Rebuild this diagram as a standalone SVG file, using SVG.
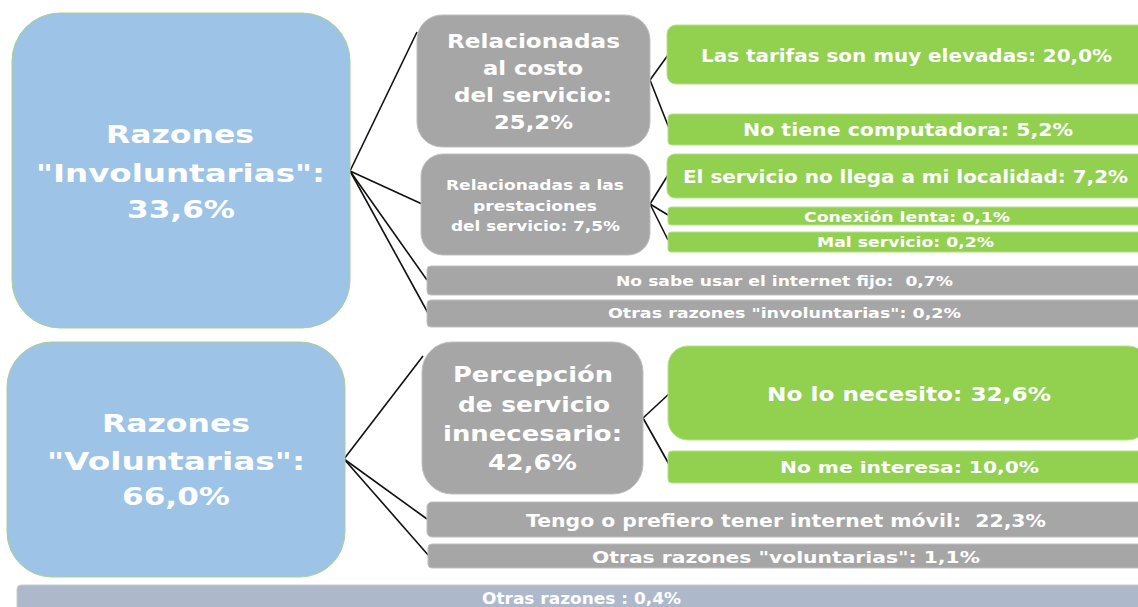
<svg xmlns="http://www.w3.org/2000/svg" width="1138" height="607" viewBox="0 0 1138 607">
<style>
text{font-family:"DejaVu Sans","Open Sans",sans-serif;font-weight:700;fill:#fff;text-anchor:middle}
.blue{fill:#9DC3E6;stroke:#A9D18E;stroke-width:1}
.grey{fill:#A6A6A6;stroke:#BFBFBF;stroke-width:1}
.green{fill:#92D050;stroke:#B5E08A;stroke-width:1}
.bottom{fill:#ADB9CA;stroke:#C8CCD2;stroke-width:1}
.conn line{stroke:#111;stroke-width:1.6}
</style>
<rect width="1138" height="607" fill="#fff"/>
<g class="conn" id="connectors">
<line x1="350" y1="171" x2="417" y2="32"/>
<line x1="350" y1="171" x2="422" y2="204"/>
<line x1="350" y1="171" x2="427" y2="280"/>
<line x1="350" y1="171" x2="428" y2="313"/>
<line x1="650" y1="80" x2="668" y2="55"/>
<line x1="650" y1="80" x2="669" y2="128"/>
<line x1="650" y1="204" x2="668" y2="175"/>
<line x1="650" y1="204" x2="668" y2="215"/>
<line x1="650" y1="204" x2="668" y2="240"/>
<line x1="344" y1="459" x2="423" y2="356"/>
<line x1="344" y1="459" x2="427" y2="519"/>
<line x1="344" y1="459" x2="429" y2="556"/>
<line x1="643" y1="418" x2="670" y2="393"/>
<line x1="643" y1="418" x2="670" y2="466"/>
</g>
<g id="involuntarias">
<rect class="blue" x="12" y="13" width="338" height="315" rx="48"/>
<text font-size="25" x="180" y="143" textLength="148" lengthAdjust="spacingAndGlyphs">Razones</text>
<text font-size="25" x="180.5" y="182" textLength="289" lengthAdjust="spacingAndGlyphs">"Involuntarias":</text>
<text font-size="25" x="181" y="218" textLength="108" lengthAdjust="spacingAndGlyphs">33,6%</text>
</g>
<g id="costo">
<rect class="grey" x="417" y="15" width="233" height="132" rx="25"/>
<text font-size="19" x="533.5" y="48" textLength="173" lengthAdjust="spacingAndGlyphs">Relacionadas</text>
<text font-size="19" x="533" y="75" textLength="100" lengthAdjust="spacingAndGlyphs">al costo</text>
<text font-size="19" x="533" y="102" textLength="158" lengthAdjust="spacingAndGlyphs">del servicio:</text>
<text font-size="19" x="533.5" y="129" textLength="79" lengthAdjust="spacingAndGlyphs">25,2%</text>
</g>
<g id="tarifas">
<rect class="green" x="667" y="25" width="480" height="59" rx="9"/>
<text font-size="18" x="906.5" y="62" textLength="411" lengthAdjust="spacingAndGlyphs">Las tarifas son muy elevadas: 20,0%</text>
</g>
<g id="computadora">
<rect class="green" x="668" y="114" width="480" height="31" rx="4"/>
<text font-size="17" x="908" y="136" textLength="330" lengthAdjust="spacingAndGlyphs">No tiene computadora: 5,2%</text>
</g>
<g id="prestaciones">
<rect class="grey" x="421" y="154" width="229" height="101" rx="22"/>
<text font-size="14.5" x="535" y="190" textLength="178" lengthAdjust="spacingAndGlyphs">Relacionadas a las</text>
<text font-size="14.5" x="535" y="211" textLength="124" lengthAdjust="spacingAndGlyphs">prestaciones</text>
<text font-size="14.5" x="535.5" y="231" textLength="169" lengthAdjust="spacingAndGlyphs">del servicio: 7,5%</text>
</g>
<g id="localidad">
<rect class="green" x="667" y="154" width="480" height="44" rx="8"/>
<text font-size="18" x="905.5" y="183" textLength="445" lengthAdjust="spacingAndGlyphs">El servicio no llega a mi localidad: 7,2%</text>
</g>
<g id="lenta">
<rect class="green" x="668" y="207" width="480" height="18" rx="3"/>
<text font-size="14.5" x="907" y="222" textLength="206" lengthAdjust="spacingAndGlyphs">Conexión lenta: 0,1%</text>
</g>
<g id="mal">
<rect class="green" x="668" y="232" width="480" height="20" rx="3"/>
<text font-size="14.5" x="905.5" y="247" textLength="177" lengthAdjust="spacingAndGlyphs">Mal servicio: 0,2%</text>
</g>
<g id="nosabe">
<rect class="grey" x="427" y="266" width="720" height="29" rx="4"/>
<text font-size="14.5" x="784.5" y="286" textLength="337" lengthAdjust="spacingAndGlyphs" xml:space="preserve">No sabe usar el internet fijo:  0,7%</text>
</g>
<g id="otrasinv">
<rect class="grey" x="427" y="300" width="720" height="27" rx="4"/>
<text font-size="14.5" x="784.5" y="318" textLength="353" lengthAdjust="spacingAndGlyphs">Otras razones "involuntarias": 0,2%</text>
</g>
<g id="voluntarias">
<rect class="blue" x="7" y="342" width="338" height="235" rx="45"/>
<text font-size="25" x="176" y="432" textLength="148" lengthAdjust="spacingAndGlyphs">Razones</text>
<text font-size="25" x="176" y="470" textLength="258" lengthAdjust="spacingAndGlyphs">"Voluntarias":</text>
<text font-size="25" x="176" y="505" textLength="108" lengthAdjust="spacingAndGlyphs">66,0%</text>
</g>
<g id="percepcion">
<rect class="grey" x="422" y="342" width="221" height="152" rx="30"/>
<text font-size="22" x="533" y="382" textLength="160" lengthAdjust="spacingAndGlyphs">Percepción</text>
<text font-size="22" x="534" y="412" textLength="152" lengthAdjust="spacingAndGlyphs">de servicio</text>
<text font-size="22" x="532.5" y="441" textLength="179" lengthAdjust="spacingAndGlyphs">innecesario:</text>
<text font-size="22" x="532.5" y="470" textLength="89" lengthAdjust="spacingAndGlyphs">42,6%</text>
</g>
<g id="necesito">
<rect class="green" x="668" y="346" width="480" height="94" rx="20"/>
<text font-size="20" x="909" y="401" textLength="284" lengthAdjust="spacingAndGlyphs">No lo necesito: 32,6%</text>
</g>
<g id="interesa">
<rect class="green" x="668" y="451" width="480" height="32" rx="4"/>
<text font-size="16" x="909.5" y="473" textLength="259" lengthAdjust="spacingAndGlyphs">No me interesa: 10,0%</text>
</g>
<g id="movil">
<rect class="grey" x="427" y="502" width="720" height="35" rx="5"/>
<text font-size="17" x="786" y="527" textLength="520" lengthAdjust="spacingAndGlyphs" xml:space="preserve">Tengo o prefiero tener internet móvil:  22,3%</text>
</g>
<g id="otrasvol">
<rect class="grey" x="428" y="544" width="720" height="24" rx="4"/>
<text font-size="16.5" x="786" y="563" textLength="388" lengthAdjust="spacingAndGlyphs">Otras razones "voluntarias": 1,1%</text>
</g>
<g id="otras">
<rect class="bottom" x="17" y="585" width="1130" height="30" rx="4"/>
<text font-size="15" x="581.5" y="604" textLength="199" lengthAdjust="spacingAndGlyphs">Otras razones : 0,4%</text>
</g>
</svg>
